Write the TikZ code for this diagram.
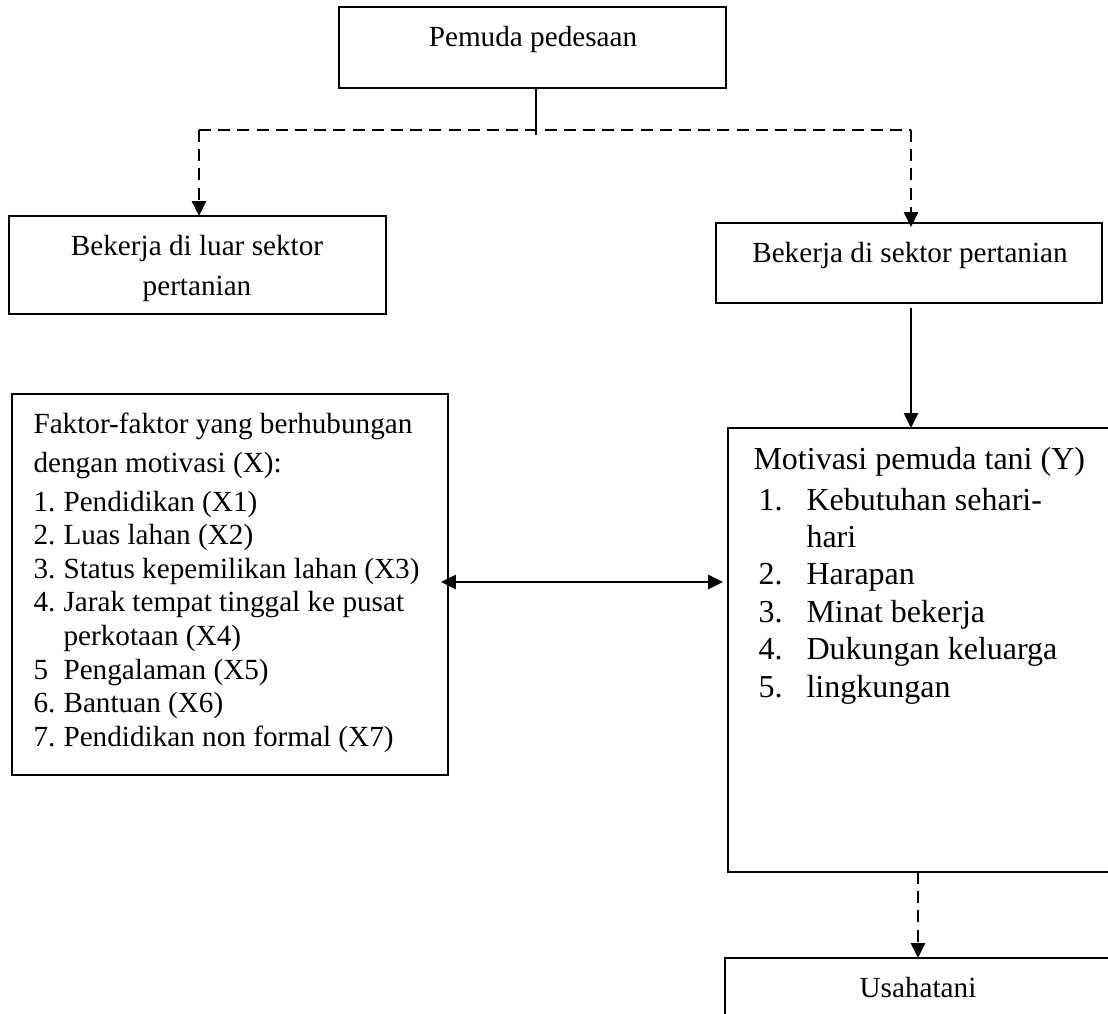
\documentclass[tikz,border=0pt]{standalone}
\usepackage{fontspec}
\setmainfont{Liberation Serif}
\usetikzlibrary{arrows.meta,calc}
\newcommand\pxu{0.375pt}
\begin{document}
\begin{tikzpicture}[x=0.375pt,y=-0.375pt,
  box/.style={draw,line width=0.75pt,rectangle,inner sep=0pt,outer sep=0pt},
  txt/.style={font=\fontsize{10.95}{13}\selectfont,inner sep=0pt},
  txtb/.style={font=\fontsize{12}{14}\selectfont,inner sep=0pt},
  conn/.style={line width=0.75pt},
  dsh/.style={dash pattern=on 4.5pt off 2.7pt},
  tip/.style={-{Triangle[length=5.6pt,width=5.3pt]}},
  tips/.style={{Triangle[length=5.6pt,width=5.3pt]}-{Triangle[length=5.6pt,width=5.3pt]}}]
\useasboundingbox (0,0) rectangle (1108,1014);
\fill[white] (0,0) rectangle (1108,1014);
% boxes
\node[box,minimum width=387*\pxu,minimum height=81*\pxu] (pemuda) at (532.5,47.5) {};
\node[box,minimum width=377*\pxu,minimum height=98*\pxu] (luar) at (197.5,265) {};
\node[box,minimum width=386*\pxu,minimum height=80*\pxu] (sektor) at (909,263) {};
\node[box,minimum width=436*\pxu,minimum height=381*\pxu] (faktor) at (230,584.5) {};
\node[box,minimum width=392*\pxu,minimum height=444*\pxu] (motiv) at (924,650) {};
\node[box,minimum width=395*\pxu,minimum height=72*\pxu] (usaha) at (922.5,994) {};
% texts
\node[txt,anchor=base] (tpemuda) at (533,46) {Pemuda pedesaan};
\node[txt,anchor=base] (tluar1) at (197,255) {Bekerja di luar sektor};
\node[txt,anchor=base] (tluar2) at (197,295) {pertanian};
\node[txt,anchor=base] (tsektor) at (910,262) {Bekerja di sektor pertanian};
\node[txt,anchor=base] (tusaha) at (918,997) {Usahatani};
% faktor list
\node[txt,anchor=base west] (f0) at (33,433) {Faktor-faktor yang berhubungan};
\node[txt,anchor=base west] (f00) at (33,472) {dengan motivasi (X):};
\node[txt,anchor=base west] (fn1) at (33,511) {1.};
\node[txt,anchor=base west] (f1) at (63,511) {Pendidikan (X1)};
\node[txt,anchor=base west] (fn2) at (33,544.6) {2.};
\node[txt,anchor=base west] (f2) at (63,544.6) {Luas lahan (X2)};
\node[txt,anchor=base west] (fn3) at (33,578.2) {3.};
\node[txt,anchor=base west] (f3) at (63,578.2) {Status kepemilikan lahan (X3)};
\node[txt,anchor=base west] (fn4) at (33,611.8) {4.};
\node[txt,anchor=base west] (f4) at (63,611.8) {Jarak tempat tinggal ke pusat};
\node[txt,anchor=base west] (f4b) at (63,645.4) {perkotaan (X4)};
\node[txt,anchor=base west] (fn5) at (33,679) {5};
\node[txt,anchor=base west] (f5) at (63,679) {Pengalaman (X5)};
\node[txt,anchor=base west] (fn6) at (33,712.6) {6.};
\node[txt,anchor=base west] (f6) at (63,712.6) {Bantuan (X6)};
\node[txt,anchor=base west] (fn7) at (33,746.2) {7.};
\node[txt,anchor=base west] (f7) at (63,746.2) {Pendidikan non formal (X7)};
% motivasi list
\node[txtb,anchor=base west] (m0) at (753,469) {Motivasi pemuda tani (Y)};
\node[txtb,anchor=base west] (mn1) at (758,510) {1.};
\node[txtb,anchor=base west] (m1) at (806,510) {Kebutuhan sehari-};
\node[txtb,anchor=base west] (m1b) at (806,547.4) {hari};
\node[txtb,anchor=base west] (mn2) at (758,584.8) {2.};
\node[txtb,anchor=base west] (m2) at (806,584.8) {Harapan};
\node[txtb,anchor=base west] (mn3) at (758,622.2) {3.};
\node[txtb,anchor=base west] (m3) at (806,622.2) {Minat bekerja};
\node[txtb,anchor=base west] (mn4) at (758,659.6) {4.};
\node[txtb,anchor=base west] (m4) at (806,659.6) {Dukungan keluarga};
\node[txtb,anchor=base west] (mn5) at (758,697) {5.};
\node[txtb,anchor=base west] (m5) at (806,697) {lingkungan};
% connectors
\coordinate (jM) at (536,130);
\coordinate (jMe) at (536,135);
\coordinate (jL) at (199,130);
\coordinate (jR) at (911,130);
\coordinate (jB) at (918,0);
\coordinate (ya) at (0,582);
\draw[conn] (pemuda.south -| jM) -- (jMe);
\draw[conn,dsh] (jL) -- (jR);
\draw[conn,dsh,tip] (jL) -- (luar.north -| jL);
\draw[conn,dsh,tip] (jR) -- ($(sektor.north -| jR)+(0,4)$);
\draw[conn,tip] ($(sektor.south -| jR)+(0,5)$) -- (motiv.north -| jR);
\draw[conn,tips] ($(faktor.east |- ya)+(-7,0)$) -- ($(motiv.west |- ya)+(-5,0)$);
\draw[conn,dsh,tip] (motiv.south -| jB) -- (usaha.north -| jB);
\end{tikzpicture}
\end{document}
